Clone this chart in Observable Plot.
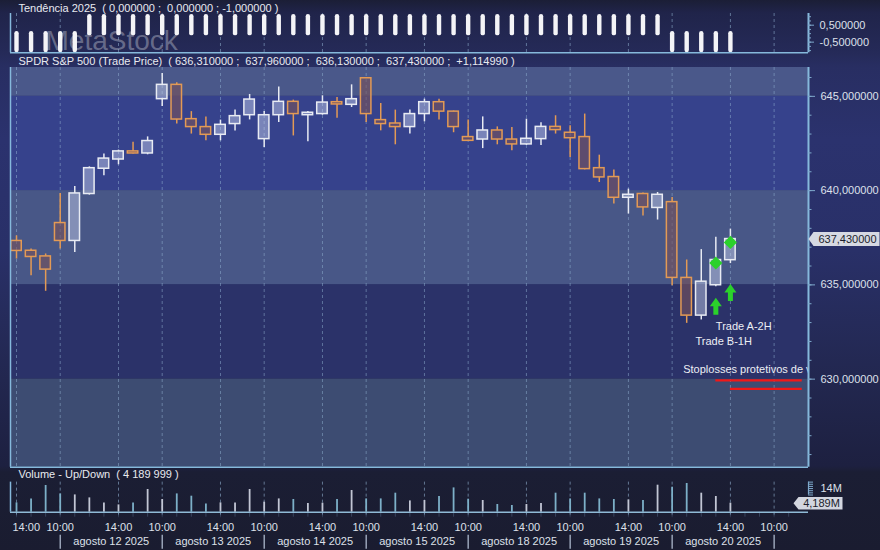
<!DOCTYPE html>
<html lang="pt">
<head>
<meta charset="utf-8">
<title>SPDR S&amp;P 500</title>
<script src="https://cdn.jsdelivr.net/npm/d3@7"></script>
<script src="https://cdn.jsdelivr.net/npm/@observablehq/plot@0.6"></script>
<style>
  html, body { margin: 0; padding: 0; background: #1a1c31; }
  #chart { position: relative; width: 880px; height: 550px; overflow: hidden;
    background: linear-gradient(180deg, #1b1e36 0px, #20244a 13px, #252a58 52px, #282e62 67px, #2b326e 140px, #293068 250px, #22274f 380px, #1d2040 466px, #1b1e34 472px, #1a1c30 550px);
    font-family: "Liberation Sans", Arial, sans-serif; }
  #chart svg { position: absolute; left: 0; top: 0; }
  #chart text { white-space: pre; }
</style>
</head>
<body>
<div id="chart"></div>
<script>
// ---------------- DATA ----------------
const opens  = [637.33,636.81,636.51,638.28,637.33,639.82,641.16,641.65,642.08,641.97,
                644.85,645.61,643.79,643.37,642.96,643.53,644.00,642.73,644.00,644.71,
                644.00,644.06,644.69,644.55,645.96,643.74,643.56,643.37,644.06,644.69,
                644.19,642.84,642.71,643.19,642.71,642.45,642.73,643.38,643.07,642.84,
                641.19,640.72,639.62,639.82,639.08,639.39,635.37,633.37,634.98,636.31];
const highs  = [637.60,636.90,636.64,639.85,640.22,641.26,641.94,642.15,642.57,642.85,
                646.21,645.72,644.19,643.91,643.74,644.27,645.10,644.20,645.50,644.80,
                644.19,645.03,644.94,645.61,646.00,644.62,644.27,644.27,644.85,644.85,
                644.22,643.74,643.91,643.38,643.35,643.79,643.60,643.97,643.44,644.06,
                641.88,641.09,640.08,639.87,639.90,639.64,636.32,636.87,637.52,637.96];
const lows   = [636.37,635.49,634.66,636.90,636.72,639.76,640.79,641.37,641.94,641.90,
                644.46,643.53,643.00,642.64,642.64,643.16,643.75,642.29,643.61,642.90,
                642.59,644.00,643.84,644.41,643.61,643.17,642.43,643.00,643.65,643.75,
                643.07,642.60,642.23,642.43,642.11,642.40,642.39,643.00,641.76,641.10,
                640.43,639.29,638.76,638.65,638.44,634.96,632.96,633.14,634.90,636.13];
const closes = [636.80,636.48,635.81,637.33,639.85,641.19,641.70,642.08,641.97,642.63,
                645.61,643.77,643.37,642.96,643.49,643.95,644.83,644.00,644.71,644.06,
                644.13,644.67,644.57,644.85,644.06,643.53,643.37,644.06,644.69,644.19,
                643.37,642.64,643.19,642.71,642.45,642.75,643.38,643.21,642.78,641.14,
                640.70,639.62,639.78,639.11,639.78,635.37,633.37,635.17,636.32,637.43];
const lastChange = 1.11499;
// volume in millions of shares
const volumesM = [4.33,6.19,12.43,8.52,8.05,6.66,4.33,3.40,4.33,10.57,
                  5.91,8.52,7.45,3.86,4.33,4.33,10.57,4.66,6.19,5.91,
                  4.05,4.19,5.91,10.10,6.19,6.19,8.85,5.26,5.45,7.31,
                  11.31,6.05,5.45,3.58,3.12,3.58,4.05,8.85,6.19,8.85,
                  6.19,5.91,5.73,5.45,12.57,11.64,13.36,8.85,7.31,4.189999];
const trendValues = [-1,-1,-1,-1,-1, 1,1,1,1,1, 1,1,1,1,1, 1,1,1,1,1, 1,1,1,1,1,
                     1,1,1,1,1, 1,1,1,1,1, 1,1,1,1,1, 1,1,1,1,1, -1,-1,-1,-1,-1];
const trendLegend = [0, 0, -1];
const timeTickIdx = [0,3,7,10,14,17,21,24,28,31,35,38,42,45,49,52];
const timeTickLabels = ["14:00","10:00","14:00","10:00","14:00","10:00","14:00","10:00",
                        "14:00","10:00","14:00","10:00","14:00","10:00","14:00","10:00"];
const daySepIdx = [3,10,17,24,31,38,45,52];
const dayLabels = ["agosto 12 2025","agosto 13 2025","agosto 14 2025","agosto 15 2025",
                   "agosto 18 2025","agosto 19 2025","agosto 20 2025"];
const priceTicks = [630,635,640,645];
const priceMinorTicks = d3.range(626, 647);
const indTicks = [-0.5, 0.5];
const indMinorTicks = [-1,-0.75,-0.5,-0.25,0,0.25,0.5,0.75,1];
const volTopTick = 14;
const volCombTicks = [8,9,10,11,12,13,14];
const signalIdx = [48, 49];
const signalDiamondPrice = [636.16, 637.25];
const signalArrowPrice = [633.87, 634.59];
const noteTexts = ["Trade A-2H", "Trade B-1H", "Stoplosses protetivos de v"];
const noteIdx = [48, 46.6, 45.76];
const notePrice = [632.77, 632.01, 630.52];
const stopFromIdx = [48, 49];
const stopToIdx = [53.93, 53.93];
const stopPrice = [629.94, 629.48];

// ---------------- LAYOUT / STYLE ----------------
const W = 880, H = 550, X0 = 10, X1 = 808;
const frameW = X1 - X0;
const xDomain = [-0.412, 54.36];
const indDomain = [-1.13, 1.19];
const priceDomain = [625.33, 646.53];
const volDomain = [0, 20.34];
const FONT = '"Liberation Sans", Arial, Helvetica, sans-serif';
const baseStyle = {background: "transparent", overflow: "visible", fontFamily: FONT, fontSize: "11px", color: "#e2e5ee"};
const AXIS_TICK = "#7fa9cc", BORDER = "#86b9dc", GRID = "#94b4d4", LABEL = "#dde0ea", HEAD = "#e8eaf0";
const UP_STROKE = "#e8ebf3", UP_FILL = "rgba(205,212,240,0.45)";
const DOWN_STROKE = "#e39a55", DOWN_FILL = "rgba(120,82,92,0.62)";
const GREEN = "#2bd12b";
const bandFills = ["#4a588a", "#36428c", "#485787", "#2b3269", "#3d4c72"];

const fmt6 = v => v.toFixed(6).replace(".", ",");
const sep = ";  ";

// ---------------- DERIVED TABLES ----------------
const candles = opens.map((o, i) => ({
  i, o, h: highs[i], l: lows[i], c: closes[i],
  up: closes[i] >= o, top: Math.max(o, closes[i]), bot: Math.min(o, closes[i])
}));
const upC = candles.filter(d => d.up), downC = candles.filter(d => !d.up);
const vols = volumesM.map((v, i) => ({i, v, up: candles[i].up}));
const trendData = trendValues.map((v, i) => ({i, v}));
const bandEdges = [priceDomain[1], 645, 640, 635, 630, priceDomain[0]];
const bands = bandFills.map((f, k) => ({hi: bandEdges[k], lo: bandEdges[k + 1], k}));
const signals = signalIdx.map((i, k) => ({i, d: signalDiamondPrice[k], a: signalArrowPrice[k]}));
const notes = noteTexts.map((t, k) => ({t, i: noteIdx[k], p: notePrice[k]}));
const stops = stopPrice.map((p, k) => ({p, x1: stopFromIdx[k], x2: stopToIdx[k]}));
const lastC = candles[candles.length - 1];
const lastVol = volumesM[volumesM.length - 1];

const trendTitle = `Tendência 2025  ( ${fmt6(trendLegend[0])} ;  ${fmt6(trendLegend[1])} ; ${fmt6(trendLegend[2])} )`;
const priceTitle = `SPDR S&P 500 (Trade Price)  ( ${fmt6(lastC.o)} ${sep}${fmt6(lastC.h)} ${sep}${fmt6(lastC.l)} ${sep}${fmt6(lastC.c)} ${sep}+${fmt6(lastChange)} )`;
const volTitle = `Volume - Up/Down  ( ${d3.format(",")(Math.round(lastVol * 1e6)).replace(/,/g, " ")} )`;
const volTag = (Math.floor(lastVol * 1000) / 1000).toFixed(3).replace(".", ",") + "M";

// ---------------- SYMBOLS ----------------
const diamondSymbol = {draw(ctx, size) {
  const r = Math.sqrt(size / Math.PI) * 1.1;
  ctx.moveTo(0, -r); ctx.lineTo(r, 0); ctx.lineTo(0, r); ctx.lineTo(-r, 0); ctx.closePath();
}};
const arrowSymbol = {draw(ctx, size) {
  const k = Math.sqrt(size / Math.PI) / 6;
  ctx.moveTo(0, -8.5 * k); ctx.lineTo(6 * k, 0); ctx.lineTo(2.5 * k, 0); ctx.lineTo(2.5 * k, 8.5 * k);
  ctx.lineTo(-2.5 * k, 8.5 * k); ctx.lineTo(-2.5 * k, 0); ctx.lineTo(-6 * k, 0); ctx.closePath();
}};
const tagSymbol = (w, h) => ({draw(ctx) {
  ctx.moveTo(0, 0); ctx.lineTo(5, -h / 2); ctx.lineTo(w, -h / 2); ctx.lineTo(w, h / 2); ctx.lineTo(5, h / 2); ctx.closePath();
}});

const chart = document.getElementById("chart");
const xScale = {domain: xDomain, axis: null};
const mid = {lineAnchor: "middle"};

// ---------------- INDICATOR PANEL ----------------
const indPlot = Plot.plot({
  width: W, height: H, marginLeft: X0, marginRight: W - X1, marginTop: 13, marginBottom: H - 52.3,
  x: xScale, y: {domain: indDomain, axis: null}, style: baseStyle,
  marks: [
    Plot.text(["MetaStock"], {...mid, text: d => d, frameAnchor: "top-left", dx: 35, dy: 27.5, fontSize: 28, fill: "#c6c9d6", fillOpacity: 0.42, textAnchor: "start", clip: true}),
    Plot.ruleX(timeTickIdx, {x: d => d, stroke: GRID, strokeOpacity: 0.55, strokeDasharray: "3,3"}),
    Plot.ruleX(trendData, {x: "i", y1: 0, y2: "v", stroke: "#f4f4f7", strokeWidth: 4.4, strokeLinecap: "round"}),
    Plot.ruleX([xDomain[0]], {x: d => d, stroke: BORDER, strokeWidth: 1.5}),
    Plot.ruleX([xDomain[1]], {x: d => d, stroke: BORDER, strokeWidth: 2}),
    Plot.ruleY([indDomain[0]], {y: d => d, stroke: BORDER, strokeWidth: 1.5}),
    Plot.ruleY(indMinorTicks, {y: d => d, insetLeft: frameW, insetRight: -3, stroke: AXIS_TICK}),
    Plot.ruleY(indTicks, {y: d => d, insetLeft: frameW, insetRight: -6, stroke: AXIS_TICK}),
    Plot.text(indTicks, {...mid, y: d => d, text: fmt6, frameAnchor: "right", dx: 11, textAnchor: "start", fill: LABEL}),
    Plot.text([trendTitle], {...mid, text: d => d, frameAnchor: "top-left", dx: 8, dy: -5.5, textAnchor: "start", fill: HEAD})
  ]
});

// ---------------- PRICE PANEL ----------------
const pricePlot = Plot.plot({
  width: W, height: H, marginLeft: X0, marginRight: W - X1, marginTop: 67, marginBottom: H - 466.7,
  x: xScale, y: {domain: priceDomain, axis: null}, style: baseStyle,
  marks: [
    ...bands.map(b => Plot.rect([b], {y1: "lo", y2: "hi", fill: bandFills[b.k]})),
    Plot.ruleX(timeTickIdx, {x: d => d, stroke: GRID, strokeOpacity: 0.5, strokeDasharray: "3,3"}),
    Plot.ruleX(downC, {x: "i", y1: "h", y2: "top", stroke: DOWN_STROKE, strokeWidth: 1.5}),
    Plot.ruleX(downC, {x: "i", y1: "bot", y2: "l", stroke: DOWN_STROKE, strokeWidth: 1.5}),
    Plot.ruleX(upC, {x: "i", y1: "h", y2: "top", stroke: UP_STROKE, strokeWidth: 1.5}),
    Plot.ruleX(upC, {x: "i", y1: "bot", y2: "l", stroke: UP_STROKE, strokeWidth: 1.5}),
    Plot.rect(downC, {x1: d => d.i - 0.36, x2: d => d.i + 0.36, y1: "bot", y2: "top", fill: DOWN_FILL, stroke: DOWN_STROKE, strokeWidth: 1.5}),
    Plot.rect(upC, {x1: d => d.i - 0.36, x2: d => d.i + 0.36, y1: "bot", y2: "top", fill: UP_FILL, stroke: UP_STROKE, strokeWidth: 1.5}),
    Plot.ruleY(stops, {y: "p", x1: "x1", x2: "x2", stroke: "#f01818", strokeWidth: 2.2}),
    Plot.dot(signals, {x: "i", y: "d", symbol: diamondSymbol, r: 6, fill: GREEN, stroke: "none"}),
    Plot.dot(signals, {x: "i", y: "a", symbol: arrowSymbol, r: 6, fill: GREEN, stroke: "none"}),
    Plot.text(notes, {...mid, x: "i", y: "p", text: "t", textAnchor: "start", fill: "#eceef4", clip: true}),
    Plot.ruleX([xDomain[0]], {x: d => d, stroke: BORDER, strokeWidth: 1.5}),
    Plot.ruleX([xDomain[1]], {x: d => d, stroke: BORDER, strokeWidth: 2}),
    Plot.ruleY([priceDomain[0]], {y: d => d, stroke: BORDER, strokeWidth: 1.5}),
    Plot.ruleY(priceMinorTicks, {y: d => d, insetLeft: frameW, insetRight: -3.5, stroke: AXIS_TICK}),
    Plot.ruleY(priceTicks, {y: d => d, insetLeft: frameW, insetRight: -7, stroke: AXIS_TICK}),
    Plot.text(priceTicks, {...mid, y: d => d, text: fmt6, frameAnchor: "right", dx: 12, textAnchor: "start", fill: LABEL}),
    Plot.dot([lastC.c], {y: d => d, frameAnchor: "right", symbol: tagSymbol(71, 14), r: 5, fill: "#d6d9e2", stroke: "none"}),
    Plot.text([lastC.c], {...mid, y: d => d, text: fmt6, frameAnchor: "right", dx: 39, textAnchor: "middle", fill: "#1c1e2c"}),
    Plot.text([priceTitle], {...mid, text: d => d, frameAnchor: "top-left", dx: 8, dy: -6, textAnchor: "start", fill: HEAD})
  ]
});

// ---------------- VOLUME PANEL + TIME AXIS ----------------
const volFrameH = 511.7 - 468;
const volPlot = Plot.plot({
  width: W, height: H, marginLeft: X0, marginRight: W - X1, marginTop: 468, marginBottom: H - 511.7,
  x: xScale, y: {domain: volDomain, axis: null}, style: baseStyle,
  marks: [
    Plot.ruleX(d3.range(0, 54), {x: d => d, insetTop: volFrameH, insetBottom: -5, stroke: "#6f8cae", strokeOpacity: 0.35}),
    Plot.ruleX(timeTickIdx, {x: d => d, y1: volTopTick, y2: 0, insetBottom: -6, stroke: GRID, strokeOpacity: 0.6, strokeDasharray: "3,3"}),
    Plot.ruleX(vols.filter(d => !d.up), {x: "i", y1: 0, y2: "v", stroke: "#7db0c8", strokeWidth: 1.8}),
    Plot.ruleX(vols.filter(d => d.up), {x: "i", y1: 0, y2: "v", stroke: "#c2c6d4", strokeWidth: 1.8}),
    Plot.ruleY([0], {y: d => d, stroke: "#8fbad6", strokeWidth: 1.5}),
    Plot.ruleX([xDomain[0]], {x: d => d, y1: 0, y2: volTopTick, stroke: BORDER, strokeWidth: 1.5}),
    Plot.ruleX([xDomain[1]], {x: d => d, y1: volCombTicks[0], y2: volTopTick, stroke: AXIS_TICK, strokeWidth: 1.2}),
    Plot.ruleY(volCombTicks, {y: d => d, insetLeft: frameW, insetRight: -5, stroke: AXIS_TICK}),
    Plot.text([volTopTick], {...mid, y: d => d, text: d => d + "M", frameAnchor: "right", dx: 12, dy: 6.5, textAnchor: "start", fill: LABEL}),
    Plot.dot([lastVol], {y: d => d, frameAnchor: "right", dx: -15, symbol: tagSymbol(49, 12.5), r: 5, fill: "#d3d6df", stroke: "none"}),
    Plot.text([volTag], {...mid, y: () => lastVol, text: d => d, frameAnchor: "right", dx: 13, textAnchor: "middle", fill: "#1c1e2c"}),
    Plot.text([volTitle], {...mid, text: d => d, frameAnchor: "top-left", dx: 8, dy: 6, textAnchor: "start", fill: HEAD}),
    Plot.text([timeTickIdx[0]], {...mid, x: d => d, text: () => timeTickLabels[0], frameAnchor: "bottom", dy: 15.3, dx: -4, textAnchor: "start", fill: LABEL}),
    Plot.text(timeTickIdx.slice(1), {...mid, x: d => d, text: (d, i) => timeTickLabels[i + 1], frameAnchor: "bottom", dy: 15.3, textAnchor: "middle", fill: LABEL}),
    Plot.ruleX(daySepIdx, {x: d => d, insetTop: volFrameH + 23, insetBottom: -37, stroke: "#b8c4d8", strokeWidth: 1.2}),
    Plot.text(dayLabels, {...mid, x: (d, i) => (daySepIdx[i] + daySepIdx[i + 1]) / 2, text: d => d, frameAnchor: "bottom", dy: 29.5, textAnchor: "middle", fill: LABEL})
  ]
});

chart.append(indPlot, pricePlot, volPlot);
</script>
</body>
</html>
